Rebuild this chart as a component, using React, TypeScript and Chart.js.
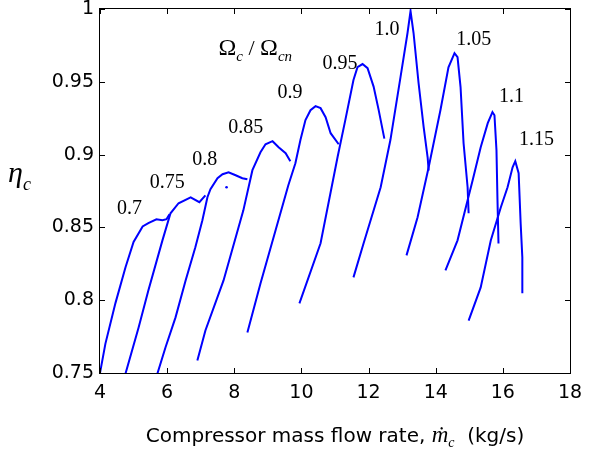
import { useEffect, useRef } from "react";
import { Chart, registerables } from "chart.js";

Chart.register(...registerables);

// ---- data ----
const speedLabels = ["0.7", "0.75", "0.8", "0.85", "0.9", "0.95", "1.0", "1.05", "1.1", "1.15"];

const flow070 = [4.0, 4.16, 4.46, 4.76, 5.0, 5.27, 5.44, 5.68, 5.86, 5.98, 6.07];
const eff070 = [0.75, 0.77, 0.798, 0.8226, 0.84, 0.8507, 0.853, 0.8556, 0.8549, 0.8556, 0.859];

const flow075 = [4.76, 5.15, 5.44, 5.86, 6.1, 6.34, 6.7, 6.96, 7.14];
const eff075 = [0.7496, 0.7813, 0.8067, 0.8411, 0.8597, 0.8666, 0.8707, 0.8673, 0.872];

const flow080 = [5.71, 5.95, 6.25, 6.55, 6.84, 7.05, 7.2, 7.29, 7.5, 7.65, 7.83, 8.04, 8.24, 8.39];
const eff080 = [0.7496, 0.7675, 0.7882, 0.8136, 0.8363, 0.8549, 0.8707, 0.8762, 0.8838, 0.8865, 0.8879, 0.8858, 0.8838, 0.8831];

const flow085 = [6.9, 7.14, 7.68, 8.27, 8.54, 8.78, 8.93, 9.14, 9.32, 9.53, 9.67];
const eff085 = [0.7586, 0.7792, 0.8136, 0.8617, 0.8893, 0.9016, 0.9071, 0.9092, 0.9051, 0.901, 0.8955];

const flow090 = [8.39, 8.78, 9.23, 9.61, 9.82, 9.97, 10.12, 10.27, 10.42, 10.57, 10.72, 10.87, 11.11];
const eff090 = [0.7778, 0.8115, 0.848, 0.879, 0.894, 0.91, 0.9237, 0.9305, 0.9333, 0.9319, 0.9257, 0.9147, 0.9071];

const flow095 = [9.94, 10.57, 11.08, 11.31, 11.55, 11.67, 11.82, 11.97, 12.15, 12.3, 12.47];
const eff095 = [0.7978, 0.8391, 0.8987, 0.924, 0.9512, 0.9601, 0.9622, 0.9594, 0.9467, 0.9307, 0.911];

const flow100 = [11.55, 11.85, 12.36, 12.65, 12.95, 13.16, 13.25, 13.34, 13.49, 13.64, 13.76, 13.79];
const eff100 = [0.8157, 0.839, 0.8776, 0.91, 0.953, 0.9835, 0.9986, 0.9835, 0.949, 0.919, 0.898, 0.889];

const flow105 = [13.13, 13.46, 13.79, 14.14, 14.38, 14.56, 14.65, 14.74, 14.83, 14.95, 14.98];
const eff105 = [0.8308, 0.857, 0.8913, 0.9305, 0.96, 0.9697, 0.967, 0.9464, 0.9078, 0.8776, 0.8597];

const flow110 = [14.29, 14.65, 14.95, 15.1, 15.34, 15.55, 15.69, 15.75, 15.81, 15.84, 15.87];
const eff110 = [0.8205, 0.8411, 0.8686, 0.8824, 0.905, 0.9216, 0.9292, 0.927, 0.903, 0.8686, 0.839];

const flow115 = [14.98, 15.34, 15.64, 15.94, 16.14, 16.29, 16.37, 16.47, 16.53, 16.58, 16.58];
const eff115 = [0.786, 0.8088, 0.841, 0.8638, 0.8776, 0.8913, 0.8955, 0.8872, 0.8528, 0.8294, 0.8047];

const strayFlow = [7.77];
const strayEff = [0.8776];

const xTicks = [4, 6, 8, 10, 12, 14, 16, 18];
const yTicks = [0.75, 0.8, 0.85, 0.9, 0.95, 1];
const yTickLabels = ["0.75", "0.8", "0.85", "0.9", "0.95", "1"];

// annotation anchors for the speed labels (data coordinates)
const labelFlow = [4.88, 6.0, 7.12, 8.34, 9.66, 11.15, 12.55, 15.13, 16.26, 17.0];
const labelEff = [0.8625, 0.8805, 0.8965, 0.9185, 0.9425, 0.9625, 0.9855, 0.979, 0.9395, 0.91];

const flows = [flow070, flow075, flow080, flow085, flow090, flow095, flow100, flow105, flow110, flow115];
const effs = [eff070, eff075, eff080, eff085, eff090, eff095, eff100, eff105, eff110, eff115];

const BLUE = "#0000ff";
const SANS = "'DejaVu Sans'";
const SERIF = "'Liberation Serif'";

type Part = { t: string; f: string; dy: number };

function drawParts(ctx: CanvasRenderingContext2D, parts: Part[], x: number, baseline: number, align: "left" | "center") {
  let total = 0;
  const widths = parts.map((p) => {
    ctx.font = p.f;
    const w = ctx.measureText(p.t).width;
    total += w;
    return w;
  });
  let cx = align === "center" ? x - total / 2 : x;
  ctx.textAlign = "left";
  ctx.textBaseline = "alphabetic";
  parts.forEach((p, i) => {
    ctx.font = p.f;
    ctx.fillText(p.t, cx, baseline + p.dy);
    cx += widths[i];
  });
}

const decorPlugin = {
  id: "decor",
  afterDraw(chart: any) {
    const { ctx, chartArea: a } = chart;
    const xs = chart.scales.x;
    const ys = chart.scales.y;
    ctx.save();
    ctx.strokeStyle = "#000";
    ctx.lineWidth = 1;
    ctx.strokeRect(a.left - 0.5, a.top - 0.5, a.right - a.left + 1, a.bottom - a.top + 1);
    const TL = 5;
    ctx.beginPath();
    xTicks.forEach((v) => {
      const px = Math.round(xs.getPixelForValue(v)) + 0.5;
      ctx.moveTo(px, a.bottom);
      ctx.lineTo(px, a.bottom - TL);
      ctx.moveTo(px, a.top);
      ctx.lineTo(px, a.top + TL);
    });
    yTicks.forEach((v) => {
      const py = Math.round(ys.getPixelForValue(v)) + 0.5;
      ctx.moveTo(a.left, py);
      ctx.lineTo(a.left + TL, py);
      ctx.moveTo(a.right, py);
      ctx.lineTo(a.right - TL, py);
    });
    ctx.stroke();

    ctx.fillStyle = "#000";
    // speed labels
    ctx.font = `20px ${SERIF}`;
    ctx.textAlign = "center";
    ctx.textBaseline = "middle";
    speedLabels.forEach((s, i) => {
      ctx.fillText(s, xs.getPixelForValue(labelFlow[i]), ys.getPixelForValue(labelEff[i]));
    });

    // Omega_c / Omega_cn
    drawParts(
      ctx,
      [
        { t: "Ω", f: `24px ${SERIF}`, dy: 0 },
        { t: "c", f: `italic 15px ${SERIF}`, dy: 6 },
        { t: " / ", f: `22px ${SERIF}`, dy: 0 },
        { t: "Ω", f: `24px ${SERIF}`, dy: 0 },
        { t: "cn", f: `italic 15px ${SERIF}`, dy: 6 },
      ],
      xs.getPixelForValue(7.53),
      ys.getPixelForValue(0.9684),
      "left"
    );

    // y-axis title
    drawParts(
      ctx,
      [
        { t: "η", f: `italic 30px ${SERIF}`, dy: 0 },
        { t: "c", f: `italic 18px ${SERIF}`, dy: 8 },
      ],
      8,
      182,
      "left"
    );

    // x-axis title
    drawParts(
      ctx,
      [
        { t: "Compressor mass flow rate, ", f: `20px ${SANS}`, dy: 0 },
        { t: "ṁ", f: `italic 23px ${SERIF}`, dy: 0 },
        { t: "c", f: `italic 14px ${SERIF}`, dy: 5 },
        { t: "  (kg/s)", f: `20px ${SANS}`, dy: 0 },
      ],
      (a.left + a.right) / 2,
      442,
      "center"
    );
    ctx.restore();
  },
};

export default function App() {
  const ref = useRef<HTMLCanvasElement | null>(null);
  useEffect(() => {
    if (!ref.current) return;
    const datasets: any[] = flows.map((f, i) => ({
      label: speedLabels[i],
      data: f.map((x, j) => ({ x, y: effs[i][j] })),
      borderColor: BLUE,
      backgroundColor: BLUE,
      borderWidth: 2,
      pointRadius: 0,
      showLine: true,
      fill: false,
      tension: 0,
    }));
    datasets.push({
      label: "stray",
      data: strayFlow.map((x, j) => ({ x, y: strayEff[j] })),
      borderColor: BLUE,
      backgroundColor: BLUE,
      pointRadius: 1.3,
      borderWidth: 0,
      showLine: false,
    });
    const chart = new Chart(ref.current, {
      type: "scatter",
      data: { datasets },
      plugins: [decorPlugin],
      options: {
        animation: false,
        responsive: false,
        events: [],
        layout: { padding: { left: 0, right: 33, top: 9, bottom: 0 } },
        plugins: { legend: { display: false }, tooltip: { enabled: false } },
        scales: {
          x: {
            type: "linear",
            min: 4,
            max: 18,
            grid: { display: false, drawTicks: false },
            border: { display: false },
            afterBuildTicks: (s: any) => {
              s.ticks = xTicks.map((v) => ({ value: v }));
            },
            afterFit: (s: any) => {
              s.height = 77;
              s.paddingLeft = 0;
              s.paddingRight = 0;
            },
            ticks: {
              color: "#000",
              padding: 9,
              maxRotation: 0,
              font: { family: "DejaVu Sans", size: 19 },
              callback: (v: any) => String(v),
            },
          },
          y: {
            type: "linear",
            min: 0.75,
            max: 1,
            grid: { display: false, drawTicks: false },
            border: { display: false },
            afterBuildTicks: (s: any) => {
              s.ticks = yTicks.map((v) => ({ value: v }));
            },
            afterFit: (s: any) => {
              s.width = 100;
              s.paddingTop = 0;
              s.paddingBottom = 0;
            },
            ticks: {
              color: "#000",
              padding: 6,
              font: { family: "DejaVu Sans", size: 19 },
              callback: (v: any) => {
                const i = yTicks.findIndex((t) => Math.abs(t - Number(v)) < 1e-9);
                return i >= 0 ? yTickLabels[i] : "";
              },
            },
          },
        },
      } as any,
    });
    return () => chart.destroy();
  }, []);
  return (
    <div style={{ position: "fixed", left: 0, top: 0, width: 603, height: 450, background: "#fff" }}>
      <canvas ref={ref} width={603} height={450} style={{ display: "block", width: 603, height: 450 }} />
    </div>
  );
}
